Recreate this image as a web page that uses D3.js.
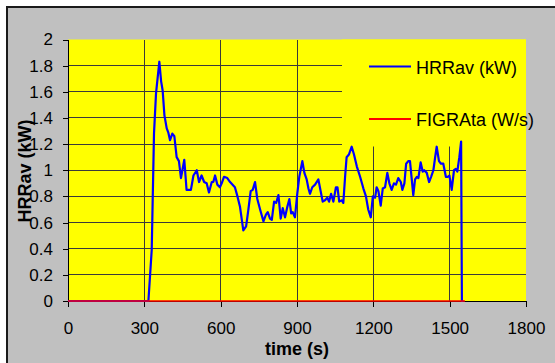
<!DOCTYPE html>
<html>
<meta charset="utf-8">
<style>
body {
	margin: 0;
	background: #fff;
}
svg text {
	font-family: "Liberation Sans", Arial, Helvetica, sans-serif;
}
.axis path, .axis line {
	fill: none;
	stroke: #000;
	shape-rendering: crispEdges;
}
.axis text {
	font-size: 17px;
	fill: #000;
}
.grid line {
	stroke: #3a3a3a;
	stroke-width: 1;
	shape-rendering: crispEdges;
}
.legend text {
	font-size: 18px;
}
</style>
<body>
<script src="https://cdn.jsdelivr.net/npm/d3@7"></script>
<script>
// HRRav (kW), time in s
var hrrTime = [0, 316, 329, 338, 346, 359, 366, 372, 379, 388, 394, 401, 410, 418, 427, 436, 444, 457, 466, 477,
	483, 493, 506, 515, 525, 535, 545, 554, 565, 571, 578, 587, 597, 604, 613, 626, 637, 656, 666, 676,
	689, 700, 709, 718, 726, 735, 744, 755, 768, 778, 785, 794, 801, 810, 818, 827, 836, 844, 853, 862,
	870, 877, 883, 892, 901, 909, 921, 929, 938, 945, 951, 960, 971, 984, 993, 1001, 1010, 1019, 1026, 1034,
	1043, 1053, 1059, 1066, 1076, 1082, 1089, 1095, 1104, 1115, 1124, 1135, 1148, 1161, 1171, 1180, 1190, 1198, 1207, 1213,
	1220, 1229, 1237, 1246, 1255, 1263, 1272, 1281, 1289, 1298, 1308, 1314, 1322, 1329, 1338, 1344, 1351, 1357, 1364, 1371,
	1377, 1386, 1394, 1400, 1410, 1419, 1427, 1436, 1443, 1449, 1458, 1466, 1475, 1485, 1493, 1499, 1508, 1517, 1524, 1530,
	1538, 1545, 1548, 1554];
var hrrValue = [0, 0, 0.39, 1.28, 1.59, 1.83, 1.68, 1.61, 1.42, 1.32, 1.29, 1.23, 1.28, 1.26, 1.10, 1.07, 0.94, 1.08, 0.85, 0.85,
	0.85, 0.96, 1.00, 0.91, 0.96, 0.91, 0.90, 0.83, 0.91, 0.91, 0.96, 0.89, 0.87, 0.90, 0.95, 0.94, 0.91, 0.87, 0.80, 0.72,
	0.54, 0.57, 0.70, 0.84, 0.85, 0.91, 0.78, 0.70, 0.61, 0.66, 0.68, 0.63, 0.62, 0.76, 0.75, 0.81, 0.63, 0.71, 0.64, 0.72,
	0.78, 0.67, 0.68, 0.64, 0.82, 0.95, 1.07, 0.98, 0.93, 0.86, 0.82, 0.87, 0.89, 0.93, 0.84, 0.76, 0.77, 0.79, 0.76, 0.82,
	0.76, 0.87, 0.87, 0.76, 0.77, 0.75, 0.95, 1.10, 1.12, 1.18, 1.12, 1.03, 0.95, 0.86, 0.80, 0.70, 0.64, 0.80, 0.79, 0.87,
	0.84, 0.73, 0.86, 0.87, 0.98, 0.90, 0.85, 0.90, 0.89, 0.94, 0.91, 0.85, 0.90, 1.05, 1.07, 1.07, 0.93, 0.81, 0.93, 0.95,
	0.94, 1.06, 0.99, 1.00, 0.98, 0.91, 0.95, 1.00, 1.10, 1.18, 1.07, 1.05, 1.05, 0.95, 0.95, 0.96, 0.85, 1.00, 1.01, 0.99,
	1.10, 1.22, 0, 0];
// FIGRAta (W/s) stays at zero
var figraTime = [0, 1560];
var figraValue = [0, 0];

var xTicks = [0, 300, 600, 900, 1200, 1500, 1800];
var yTicks = [0, 0.2, 0.4, 0.6, 0.8, 1, 1.2, 1.4, 1.6, 1.8, 2];
var seriesNames = ["HRRav (kW)", "FIGRAta (W/s)"];
var seriesColors = ["#0000ff", "#ff0000"];

var W = 555, H = 363;
var margin = {top: 39.5, left: 68, right: 29, bottom: 62};
var pw = W - margin.left - margin.right,
	ph = H - margin.top - margin.bottom;

var svg = d3.select("body").append("svg")
	.attr("width", W)
	.attr("height", H);

// grey chart area with dark top/left edge
svg.append("rect")
	.attr("x", 7).attr("y", 7)
	.attr("width", W).attr("height", H)
	.attr("fill", "#c0c0c0");
svg.append("path")
	.attr("d", "M7," + H + "V7H" + W)
	.attr("fill", "none")
	.attr("stroke", "#1a1a1a")
	.attr("stroke-width", 2);

var g = svg.append("g")
	.attr("transform", "translate(" + margin.left + "," + margin.top + ")");

var x = d3.scaleLinear().domain([0, 1800]).range([0, pw]);
var y = d3.scaleLinear().domain([0, 2]).range([ph, 0]);

g.append("rect")
	.attr("width", pw)
	.attr("height", ph)
	.attr("fill", "#ffff00");

g.append("g")
	.attr("class", "grid")
	.selectAll("line")
	.data(yTicks.filter(function(d) { return d > 0 && d < 2; }))
	.enter().append("line")
	.attr("x1", 0).attr("x2", pw)
	.attr("y1", function(d) { return y(d); })
	.attr("y2", function(d) { return y(d); });

g.append("g")
	.attr("class", "grid")
	.selectAll("line")
	.data(xTicks.filter(function(d) { return d > 0 && d < 1800; }))
	.enter().append("line")
	.attr("y1", 0).attr("y2", ph)
	.attr("x1", function(d) { return x(d); })
	.attr("x2", function(d) { return x(d); });

// legend box covers the grid
var lx = x(1800) - 184, ly = 0;
g.append("rect")
	.attr("x", lx).attr("y", ly)
	.attr("width", 184).attr("height", 107)
	.attr("fill", "#ffff00");

g.append("g")
	.attr("class", "x axis")
	.attr("transform", "translate(0," + ph + ")")
	.call(d3.axisBottom(x).tickValues(xTicks).tickSize(6).tickPadding(15).tickSizeOuter(0)
		.tickFormat(function(d) { return d; }));

g.append("g")
	.attr("class", "y axis")
	.call(d3.axisLeft(y).tickValues(yTicks).tickSize(5).tickPadding(10).tickSizeOuter(0)
		.tickFormat(function(d) { return d; }));

var line = d3.line()
	.x(function(d) { return x(d[0]); })
	.y(function(d) { return y(d[1]); });

g.append("path")
	.datum(hrrTime.map(function(t, i) { return [t, hrrValue[i]]; }))
	.attr("d", line)
	.attr("fill", "none")
	.attr("stroke", seriesColors[0])
	.attr("stroke-width", 2.2)
	.attr("stroke-linejoin", "round");

g.append("path")
	.datum(figraTime.map(function(t, i) { return [t, figraValue[i]]; }))
	.attr("d", line)
	.attr("fill", "none")
	.attr("stroke", seriesColors[1])
	.attr("stroke-width", 1.6);

var legend = g.selectAll(".legend")
	.data(seriesNames)
	.enter().append("g")
	.attr("class", "legend")
	.attr("transform", function(d, i) { return "translate(" + (lx + 27) + "," + (27 + i * 52.5) + ")"; });
legend.append("line")
	.attr("x1", 0).attr("x2", 42)
	.attr("stroke", function(d, i) { return seriesColors[i]; })
	.attr("stroke-width", 2.2);
legend.append("text")
	.attr("x", 47)
	.attr("y", 7)
	.text(function(d) { return d; });

svg.append("text")
	.attr("x", margin.left + x(900))
	.attr("y", 355)
	.attr("text-anchor", "middle")
	.attr("font-size", "18px")
	.attr("font-weight", "bold")
	.text("time (s)");

svg.append("text")
	.attr("transform", "translate(31,171) rotate(-90)")
	.attr("text-anchor", "middle")
	.attr("font-size", "18px")
	.attr("font-weight", "bold")
	.text("HRRav (kW)");
</script>
</body>
</html>
